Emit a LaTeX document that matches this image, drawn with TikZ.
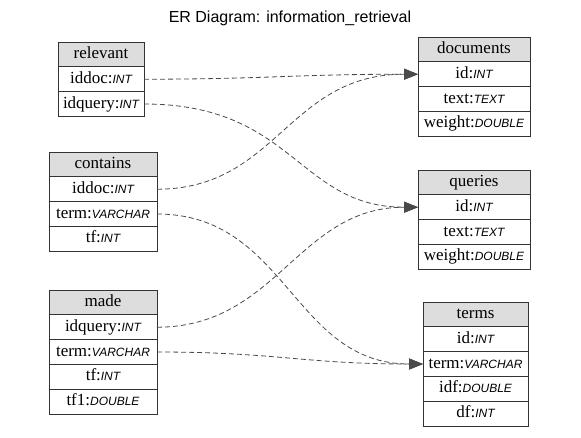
\documentclass[tikz,border=0pt]{standalone}
\usepackage{fontspec}
\setmainfont{Liberation Serif}
\setsansfont{Liberation Sans}
\usetikzlibrary{arrows.meta}
\newcommand{\dtype}[1]{{\sffamily\itshape\fontsize{12}{14}\selectfont #1}}
\definecolor{hdrgray}{HTML}{DDDDDD}
\definecolor{edgegray}{HTML}{4A4A4A}
\begin{document}
\begin{tikzpicture}[x=1pt,y=-1pt,
  cell/.style={draw=black!80, line width=0.9pt, fill=white, inner sep=0pt, outer sep=0pt,
    minimum height=24.8pt, text height=12pt, text depth=4pt,
    font=\fontsize{17}{19}\selectfont},
  hdr/.style={cell, fill=hdrgray},
  fk/.style={draw=edgegray, line width=0.8pt, dash pattern=on 5pt off 3pt,
    -{Triangle[length=14pt,width=11pt,fill=edgegray,sep=0pt]}},
]
\useasboundingbox (0,0) rectangle (581,437);
\node[font=\sffamily\fontsize{16}{18}\selectfont] (title) at (290,18) {ER Diagram: information\_retrieval};

% relevant
\node[hdr, minimum width=86pt, anchor=north west] (rel) at (58,42) {relevant};
\node[cell, minimum width=86pt, anchor=north west] (rel-iddoc) at (rel.south west) {iddoc:\dtype{INT}};
\node[cell, minimum width=86pt, anchor=north west] (rel-idquery) at (rel-iddoc.south west) {idquery:\dtype{INT}};

% contains
\node[hdr, minimum width=108pt, anchor=north west] (con) at (49,152) {contains};
\node[cell, minimum width=108pt, anchor=north west] (con-iddoc) at (con.south west) {iddoc:\dtype{INT}};
\node[cell, minimum width=108pt, anchor=north west] (con-term) at (con-iddoc.south west) {term:\dtype{VARCHAR}};
\node[cell, minimum width=108pt, anchor=north west] (con-tf) at (con-term.south west) {tf:\dtype{INT}};

% made
\node[hdr, minimum width=108pt, anchor=north west] (made) at (49,290) {made};
\node[cell, minimum width=108pt, anchor=north west] (made-idquery) at (made.south west) {idquery:\dtype{INT}};
\node[cell, minimum width=108pt, anchor=north west] (made-term) at (made-idquery.south west) {term:\dtype{VARCHAR}};
\node[cell, minimum width=108pt, anchor=north west] (made-tf) at (made-term.south west) {tf:\dtype{INT}};
\node[cell, minimum width=108pt, anchor=north west] (made-tf1) at (made-tf.south west) {tf1:\dtype{DOUBLE}};

% documents
\node[hdr, minimum width=112pt, anchor=north west] (doc) at (418,37) {documents};
\node[cell, minimum width=112pt, anchor=north west] (doc-id) at (doc.south west) {id:\dtype{INT}};
\node[cell, minimum width=112pt, anchor=north west] (doc-text) at (doc-id.south west) {text:\dtype{TEXT}};
\node[cell, minimum width=112pt, anchor=north west] (doc-weight) at (doc-text.south west) {weight:\dtype{DOUBLE}};

% queries
\node[hdr, minimum width=112pt, anchor=north west] (qry) at (418,170) {queries};
\node[cell, minimum width=112pt, anchor=north west] (qry-id) at (qry.south west) {id:\dtype{INT}};
\node[cell, minimum width=112pt, anchor=north west] (qry-text) at (qry-id.south west) {text:\dtype{TEXT}};
\node[cell, minimum width=112pt, anchor=north west] (qry-weight) at (qry-text.south west) {weight:\dtype{DOUBLE}};

% terms
\node[hdr, minimum width=105pt, anchor=north west] (trm) at (423,302) {terms};
\node[cell, minimum width=105pt, anchor=north west] (trm-id) at (trm.south west) {id:\dtype{INT}};
\node[cell, minimum width=105pt, anchor=north west] (trm-term) at (trm-id.south west) {term:\dtype{VARCHAR}};
\node[cell, minimum width=105pt, anchor=north west] (trm-idf) at (trm-term.south west) {idf:\dtype{DOUBLE}};
\node[cell, minimum width=105pt, anchor=north west] (trm-df) at (trm-idf.south west) {df:\dtype{INT}};

% foreign keys
\draw[fk] (rel-iddoc.east) .. controls +(120,0) and +(-120,0) .. (doc-id.west);
\draw[fk] (rel-idquery.east) .. controls +(150,0) and +(-120,0) .. (qry-id.west);
\draw[fk] (con-iddoc.east) .. controls +(120,0) and +(-130,0) .. (doc-id.west);
\draw[fk] (con-term.east) .. controls +(130,0) and +(-130,0) .. (trm-term.west);
\draw[fk] (made-idquery.east) .. controls +(120,0) and +(-120,0) .. (qry-id.west);
\draw[fk] (made-term.east) .. controls +(120,0) and +(-120,0) .. (trm-term.west);
\end{tikzpicture}
\end{document}
